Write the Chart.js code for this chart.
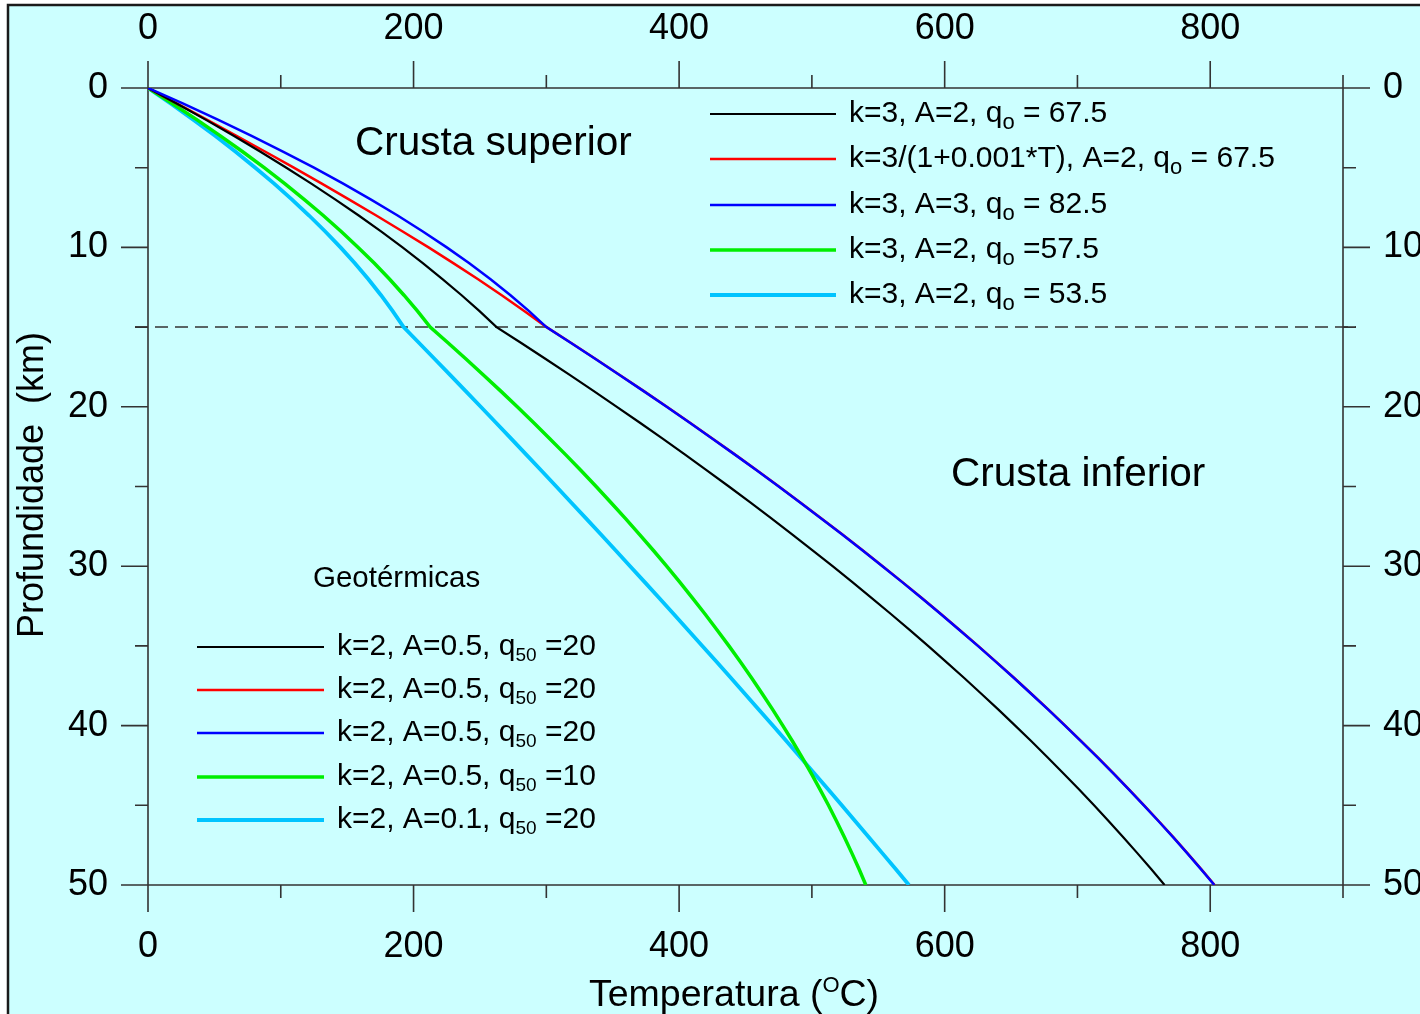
<!DOCTYPE html>
<html>
<head>
<meta charset="utf-8">
<title>Geotermas da crosta</title>
<script src="https://cdn.jsdelivr.net/npm/chart.js@4/dist/chart.umd.min.js"></script>
<style>
  html, body { margin: 0; padding: 0; background: #ffffff; overflow: hidden; }
  canvas { display: block; }
</style>
</head>
<body>
<canvas id="geo" width="1420" height="1014"></canvas>
<script>
// Profundidade (km) at which every geotherm is sampled
const depthKm = [0, 1, 2, 3, 4, 5, 6, 7, 8, 9, 10, 11, 12, 13, 14, 15, 16, 17, 18, 19, 20,
  21, 22, 23, 24, 25, 26, 27, 28, 29, 30, 31, 32, 33, 34, 35, 36, 37, 38, 39, 40,
  41, 42, 43, 44, 45, 46, 47, 48, 49, 50];

// Temperatura (°C) of each geotherm at those depths
const tempBlack = [0, 22.2, 43.7, 64.5, 84.7, 104.2, 123.0, 141.2, 158.7, 175.5, 191.7,
  207.2, 222.0, 236.2, 249.7, 262.5, 281.1, 299.5, 317.6, 335.5, 353.1,
  370.5, 387.6, 404.5, 421.1, 437.5, 453.6, 469.5, 485.1, 500.5, 515.6,
  530.5, 545.1, 559.5, 573.6, 587.5, 601.1, 614.5, 627.6, 640.5, 653.1,
  665.5, 677.6, 689.5, 701.1, 712.5, 723.6, 734.5, 745.1, 755.5, 765.6];
const tempRed = [0, 22.4, 44.6, 66.6, 88.4, 109.8, 130.9, 151.6, 171.9, 191.8, 211.3,
  230.2, 248.6, 266.4, 283.6, 300.2, 318.8, 337.2, 355.3, 373.2, 390.8,
  408.2, 425.3, 442.2, 458.8, 475.2, 491.3, 507.2, 522.8, 538.2, 553.3,
  568.2, 582.8, 597.2, 611.3, 625.2, 638.8, 652.2, 665.3, 678.2, 690.8,
  703.2, 715.3, 727.2, 738.8, 750.2, 761.3, 772.2, 782.8, 793.2, 803.3];
const tempBlue = [0, 27.0, 53.0, 78.0, 102.0, 125.0, 147.0, 168.0, 188.0, 207.0, 225.0,
  242.0, 258.0, 273.0, 287.0, 300.0, 318.6, 337.0, 355.1, 373.0, 390.6,
  408.0, 425.1, 442.0, 458.6, 475.0, 491.1, 507.0, 522.6, 538.0, 553.1,
  568.0, 582.6, 597.0, 611.1, 625.0, 638.6, 652.0, 665.1, 678.0, 690.6,
  703.0, 715.1, 727.0, 738.6, 750.0, 761.1, 772.0, 782.6, 793.0, 803.1];
const tempGreen = [0, 18.8, 37.0, 54.5, 71.3, 87.5, 103.0, 117.8, 132.0, 145.5, 158.3,
  170.5, 182.0, 192.8, 203.0, 212.5, 226.1, 239.5, 252.6, 265.5, 278.1,
  290.5, 302.6, 314.5, 326.1, 337.5, 348.6, 359.5, 370.1, 380.5, 390.6,
  400.5, 410.1, 419.5, 428.6, 437.5, 446.1, 454.5, 462.6, 470.5, 478.1,
  485.5, 492.6, 499.5, 506.1, 512.5, 518.6, 524.5, 530.1, 535.5, 540.6];
const tempCyan = [0, 17.5, 34.3, 50.5, 66.0, 80.8, 95.0, 108.5, 121.3, 133.5, 145.0,
  155.8, 166.0, 175.5, 184.3, 192.5, 204.2, 215.9, 227.5, 239.1, 250.6,
  262.1, 273.5, 284.9, 296.2, 307.5, 318.7, 329.9, 341.0, 352.1, 363.1,
  374.1, 385.0, 395.9, 406.7, 417.5, 428.2, 438.9, 449.5, 460.1, 470.6,
  481.1, 491.5, 501.9, 512.2, 522.5, 532.7, 542.9, 553.0, 563.1, 573.1];

// Axis ticks
const tempTicks = [0, 200, 400, 600, 800];
const tempMinorTicks = [100, 300, 500, 700, 900];
const depthTicks = [0, 10, 20, 30, 40, 50];
const depthMinorTicks = [5, 15, 25, 35, 45];
const tempRange = [0, 900];
const depthRange = [0, 50];

// Boundary between upper and lower crust (km)
const crustBoundaryKm = 15;

// Legend texts: [text, subscript, text]
const upperCrustLabels = [
  ["k=3, A=2, q", "o", " = 67.5"],
  ["k=3/(1+0.001*T), A=2, q", "o", " = 67.5"],
  ["k=3, A=3, q", "o", " = 82.5"],
  ["k=3, A=2, q", "o", " =57.5"],
  ["k=3, A=2, q", "o", " = 53.5"]
];
const lowerCrustLabels = [
  ["k=2, A=0.5, q", "50", " =20"],
  ["k=2, A=0.5, q", "50", " =20"],
  ["k=2, A=0.5, q", "50", " =20"],
  ["k=2, A=0.5, q", "50", " =10"],
  ["k=2, A=0.1, q", "50", " =20"]
];

const FONT = "'Liberation Sans', Arial, Helvetica, sans-serif";
const AXIS_COLOR = '#333333';

function toPoints(temps) {
  return temps.map((t, i) => ({ x: t, y: depthKm[i] }));
}

const seriesStyle = [
  { data: tempBlack, color: '#000000', width: 2.2, order: 1 },
  { data: tempRed,   color: '#ff0000', width: 2.5, order: 2 },
  { data: tempBlue,  color: '#0000ff', width: 2.5, order: 0 },
  { data: tempGreen, color: '#00ee00', width: 3.5, order: 3 },
  { data: tempCyan,  color: '#00c4ff', width: 3.8, order: 4 }
];

const datasets = seriesStyle.map(s => ({
  data: toPoints(s.data),
  borderColor: s.color,
  backgroundColor: s.color,
  borderWidth: s.width,
  order: s.order,
  showLine: true,
  pointRadius: 0,
  tension: 0,
  fill: false,
  xAxisID: 'x',
  yAxisID: 'y'
}));

function drawRich(ctx, x, y, parts) {
  // parts: [{t, size, dy}]
  let cx = x;
  parts.forEach(p => {
    ctx.font = p.size + 'px ' + FONT;
    ctx.fillText(p.t, cx, y + (p.dy || 0));
    cx += ctx.measureText(p.t).width;
  });
}

const geoPlugin = {
  id: 'geoFrame',
  beforeDraw(chart) {
    const { ctx, width, height } = chart;
    ctx.save();
    ctx.fillStyle = '#ffffff';
    ctx.fillRect(0, 0, width, height);
    ctx.fillStyle = '#ccffff';
    ctx.fillRect(8, 5, width, height);
    ctx.strokeStyle = '#1a1a1a';
    ctx.lineWidth = 2.5;
    ctx.strokeRect(8, 5, width + 40, height + 40);
    ctx.restore();
  },
  beforeDatasetsDraw(chart) {
    const { ctx } = chart;
    const xs = chart.scales.x, ys = chart.scales.y;
    const left = xs.getPixelForValue(tempRange[0]);
    const right = xs.getPixelForValue(tempRange[1]);
    const top = ys.getPixelForValue(depthRange[0]);
    const bottom = ys.getPixelForValue(depthRange[1]);
    const major = 27, minor = 13;
    ctx.save();
    ctx.strokeStyle = AXIS_COLOR;
    ctx.lineWidth = 1.6;
    ctx.beginPath();
    // frame lines of the plot
    ctx.moveTo(left, top); ctx.lineTo(right, top);
    ctx.moveTo(left, bottom); ctx.lineTo(right, bottom);
    ctx.moveTo(left, top); ctx.lineTo(left, bottom);
    ctx.moveTo(right, top); ctx.lineTo(right, bottom);
    // temperature ticks (top and bottom)
    const tx = (v, len) => {
      const p = xs.getPixelForValue(v);
      ctx.moveTo(p, top - len); ctx.lineTo(p, top);
      ctx.moveTo(p, bottom); ctx.lineTo(p, bottom + len);
    };
    tempTicks.forEach(v => tx(v, major));
    tempMinorTicks.forEach(v => tx(v, minor));
    // depth ticks (left and right)
    const ty = (v, len) => {
      const p = ys.getPixelForValue(v);
      ctx.moveTo(left - len, p); ctx.lineTo(left, p);
      ctx.moveTo(right, p); ctx.lineTo(right + len, p);
    };
    depthTicks.forEach(v => ty(v, major));
    depthMinorTicks.forEach(v => ty(v, minor));
    ctx.stroke();

    // crust boundary
    const yb = ys.getPixelForValue(crustBoundaryKm);
    ctx.setLineDash([13, 7]);
    ctx.lineWidth = 1.5;
    ctx.beginPath();
    ctx.moveTo(left - minor, yb);
    ctx.lineTo(right + minor, yb);
    ctx.stroke();
    ctx.restore();
  },
  afterDraw(chart) {
    const { ctx } = chart;
    const ds = chart.data.datasets;
    ctx.save();
    ctx.fillStyle = '#000000';
    ctx.textAlign = 'left';
    ctx.textBaseline = 'alphabetic';

    // region names
    ctx.font = '40.5px ' + FONT;
    ctx.fillText('Crusta superior', 355, 155);
    ctx.fillText('Crusta inferior', 951, 486);

    // axis titles
    drawRich(ctx, 589, 1006, [
      { t: 'Temperatura (', size: 37.5 },
      { t: 'O', size: 22, dy: -14 },
      { t: 'C)', size: 37.5 }
    ]);
    ctx.save();
    ctx.translate(43, 485);
    ctx.rotate(-Math.PI / 2);
    ctx.textAlign = 'center';
    ctx.font = '36px ' + FONT;
    ctx.fillText('Profundidade  (km)', 0, 0);
    ctx.restore();

    // upper crust legend
    const upRows = [114, 159, 205, 250, 295];
    upRows.forEach((yy, i) => {
      ctx.strokeStyle = ds[i].borderColor;
      ctx.lineWidth = ds[i].borderWidth;
      ctx.beginPath();
      ctx.moveTo(710, yy); ctx.lineTo(836, yy);
      ctx.stroke();
      const l = upperCrustLabels[i];
      drawRich(ctx, 849, yy + 8, [
        { t: l[0], size: 30 },
        { t: l[1], size: 22, dy: 7 },
        { t: l[2], size: 30 }
      ]);
    });

    // lower crust legend
    ctx.font = '29.5px ' + FONT;
    ctx.fillText('Geotérmicas', 313, 587);
    const lowRows = [647, 690, 733, 777, 820];
    lowRows.forEach((yy, i) => {
      ctx.strokeStyle = ds[i].borderColor;
      ctx.lineWidth = ds[i].borderWidth;
      ctx.beginPath();
      ctx.moveTo(197, yy); ctx.lineTo(324, yy);
      ctx.stroke();
      const l = lowerCrustLabels[i];
      drawRich(ctx, 337, yy + 8, [
        { t: l[0], size: 30 },
        { t: l[1], size: 19, dy: 6 },
        { t: l[2], size: 30 }
      ]);
    });
    ctx.restore();
  }
};

const tickFont = { family: FONT, size: 36 };
function axisTicks(values) {
  return scale => { scale.ticks = values.map(v => ({ value: v })); };
}

new Chart(document.getElementById('geo'), {
  type: 'scatter',
  data: { datasets },
  plugins: [geoPlugin],
  options: {
    responsive: false,
    devicePixelRatio: 1,
    animation: false,
    events: [],
    layout: { padding: 0 },
    plugins: { legend: { display: false }, tooltip: { enabled: false } },
    scales: {
      x: {
        type: 'linear', position: 'bottom', min: tempRange[0], max: tempRange[1],
        grid: { display: false, drawTicks: false, tickLength: 0 },
        border: { display: false },
        ticks: { font: tickFont, color: '#000', padding: 40, maxRotation: 0, autoSkip: false },
        afterBuildTicks: axisTicks(tempTicks),
        afterFit: s => { s.height = 129; }
      },
      xTop: {
        type: 'linear', position: 'top', min: tempRange[0], max: tempRange[1],
        grid: { display: false, drawTicks: false, tickLength: 0 },
        border: { display: false },
        ticks: { font: tickFont, color: '#000', padding: 37, maxRotation: 0, autoSkip: false },
        afterBuildTicks: axisTicks(tempTicks),
        afterFit: s => { s.height = 88; }
      },
      y: {
        type: 'linear', position: 'left', reverse: true, min: depthRange[0], max: depthRange[1],
        grid: { display: false, drawTicks: false, tickLength: 0 },
        border: { display: false },
        ticks: { font: tickFont, color: '#000', padding: 40, autoSkip: false },
        afterBuildTicks: axisTicks(depthTicks),
        afterFit: s => { s.width = 148; }
      },
      yRight: {
        type: 'linear', position: 'right', reverse: true, min: depthRange[0], max: depthRange[1],
        grid: { display: false, drawTicks: false, tickLength: 0 },
        border: { display: false },
        ticks: { font: tickFont, color: '#000', padding: 40, autoSkip: false },
        afterBuildTicks: axisTicks(depthTicks),
        afterFit: s => { s.width = 77; }
      }
    }
  }
});
</script>
</body>
</html>
